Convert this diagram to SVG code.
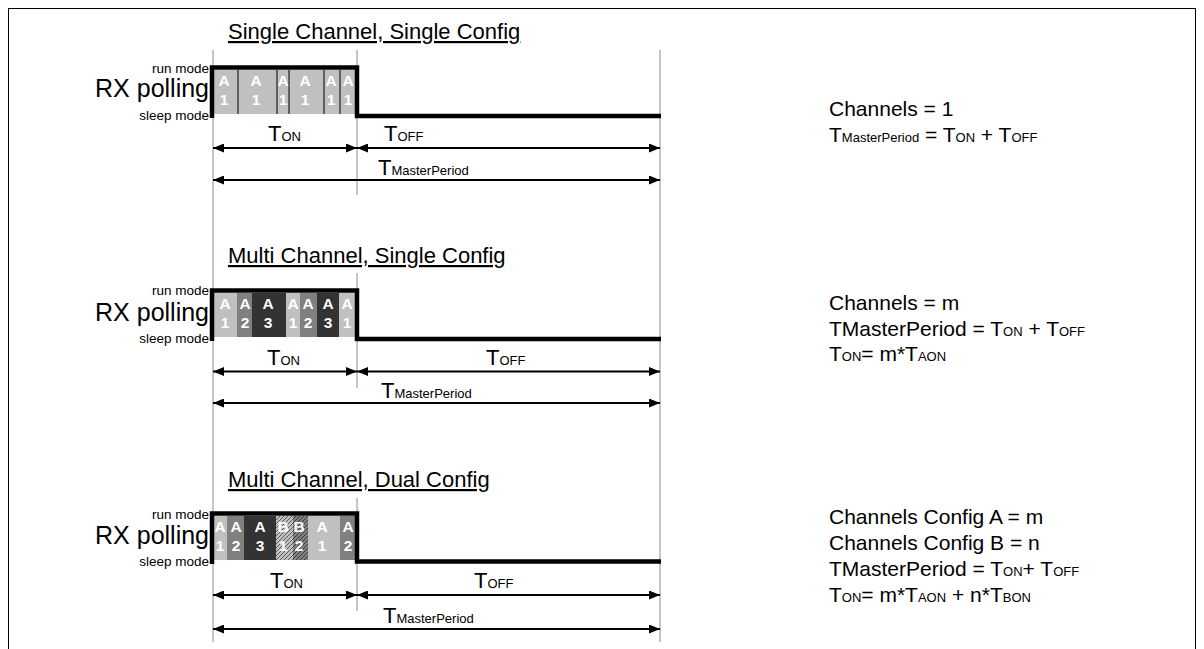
<svg xmlns="http://www.w3.org/2000/svg" width="1204" height="649" viewBox="0 0 1204 649">
<style>
text{font-family:"Liberation Sans",Arial,sans-serif;fill:#000}
.title{font-size:22px;text-decoration:underline}
.small{font-size:13.5px}
.rx{font-size:25px}
.tl{font-size:22px}
.rt{font-size:21px}
.sub{font-size:13px}
.blk{font-size:15.5px;font-weight:bold;fill:#fff;text-anchor:middle}
.grid{stroke:#a0a0a0;stroke-width:1.2;fill:none}
.sig{stroke:#000;stroke-width:4.5;fill:none;stroke-linejoin:miter}
.arr{stroke:#000;stroke-width:2;fill:none;marker-start:url(#ah);marker-end:url(#ah)}
.L{fill:#c0c0c0}.M{fill:#808080}.D{fill:#333333}
.sep{stroke:#000;stroke-width:1}
</style>
<defs>
<marker id="ah" viewBox="0 0 11 9" refX="11" refY="4.5" markerWidth="11" markerHeight="9" markerUnits="userSpaceOnUse" orient="auto-start-reverse">
<path d="M0,0 L11,4.5 L0,9 z" fill="#000"/>
</marker>
<pattern id="hatch" patternUnits="userSpaceOnUse" width="4" height="4">
<path d="M-1,1 L1,-1 M0,4 L4,0 M3,5 L5,3" stroke="#000" stroke-width="0.7" stroke-opacity="0.75"/>
</pattern>
</defs>
<rect x="8.5" y="8.5" width="1187" height="660" fill="#fff" stroke="#000" stroke-width="1"/>

<g id="grid">
<line class="grid" x1="213" y1="50" x2="213" y2="642"/>
<line class="grid" x1="660" y1="50" x2="660" y2="642"/>
<line class="grid" x1="357" y1="50" x2="357" y2="195"/>
<line class="grid" x1="357" y1="273" x2="357" y2="388"/>
<line class="grid" x1="357" y1="498" x2="357" y2="611"/>
</g>

<g id="section1">
<text class="title" x="228" y="39">Single Channel, Single Config</text>
<text class="small" x="209" y="72.5" text-anchor="end">run mode</text>
<text class="rx" x="209" y="97" text-anchor="end">RX polling</text>
<text class="small" x="209" y="120" text-anchor="end">sleep mode</text>
<g id="blocks1">
<rect class="L" x="214" y="70" width="141" height="44"/>
<line class="sep" x1="238" y1="70" x2="238" y2="114"/>
<line class="sep" x1="277" y1="70" x2="277" y2="114"/>
<line class="sep" x1="289" y1="70" x2="289" y2="114"/>
<line class="sep" x1="324" y1="70" x2="324" y2="114"/>
<line class="sep" x1="340" y1="70" x2="340" y2="114"/>
<text class="blk" x="224" y="86">A</text><text class="blk" x="224" y="105">1</text>
<text class="blk" x="256" y="86">A</text><text class="blk" x="256" y="105">1</text>
<text class="blk" x="283" y="86">A</text><text class="blk" x="283" y="105">1</text>
<text class="blk" x="305" y="86">A</text><text class="blk" x="305" y="105">1</text>
<text class="blk" x="331" y="86">A</text><text class="blk" x="331" y="105">1</text>
<text class="blk" x="348" y="86">A</text><text class="blk" x="348" y="105">1</text>
</g>
<path class="sig" d="M212,118 L212,67.5 L357,67.5 L357,116 L661,116"/>
<text class="tl" x="268" y="141">T<tspan class="sub">ON</tspan></text>
<text class="tl" x="384" y="141">T<tspan class="sub">OFF</tspan></text>
<text class="tl" x="378" y="175">T<tspan class="sub">MasterPeriod</tspan></text>
</g>

<g id="section2">
<text class="title" x="228" y="263">Multi Channel, Single Config</text>
<text class="small" x="209" y="295" text-anchor="end">run mode</text>
<text class="rx" x="209" y="321" text-anchor="end">RX polling</text>
<text class="small" x="209" y="343" text-anchor="end">sleep mode</text>
<g id="blocks2">
<rect class="L" x="214" y="293" width="23" height="44"/>
<rect class="M" x="237" y="293" width="15" height="44"/>
<rect class="D" x="252" y="293" width="34" height="44"/>
<rect class="L" x="286" y="293" width="14" height="44"/>
<rect class="M" x="300" y="293" width="17" height="44"/>
<rect class="D" x="317" y="293" width="22" height="44"/>
<rect class="L" x="339" y="293" width="16" height="44"/>
<text class="blk" x="225" y="309">A</text><text class="blk" x="225" y="328">1</text>
<text class="blk" x="245" y="309">A</text><text class="blk" x="245" y="328">2</text>
<text class="blk" x="268" y="309">A</text><text class="blk" x="268" y="328">3</text>
<text class="blk" x="293" y="309">A</text><text class="blk" x="293" y="328">1</text>
<text class="blk" x="308" y="309">A</text><text class="blk" x="308" y="328">2</text>
<text class="blk" x="328" y="309">A</text><text class="blk" x="328" y="328">3</text>
<text class="blk" x="347" y="309">A</text><text class="blk" x="347" y="328">1</text>
</g>
<path class="sig" d="M212,341 L212,290.5 L357,290.5 L357,339 L661,339"/>
<text class="tl" x="267" y="365">T<tspan class="sub">ON</tspan></text>
<text class="tl" x="486" y="365">T<tspan class="sub">OFF</tspan></text>
<text class="tl" x="381" y="398">T<tspan class="sub">MasterPeriod</tspan></text>
</g>

<g id="section3">
<text class="title" x="228" y="487">Multi Channel, Dual Config</text>
<text class="small" x="209" y="519" text-anchor="end">run mode</text>
<text class="rx" x="209" y="544" text-anchor="end">RX polling</text>
<text class="small" x="209" y="566" text-anchor="end">sleep mode</text>
<g id="blocks3">
<rect class="L" x="214" y="516" width="13" height="44"/>
<rect class="M" x="227" y="516" width="17" height="44"/>
<rect class="D" x="244" y="516" width="32" height="44"/>
<rect class="L" x="276" y="516" width="17" height="44"/>
<rect x="276" y="516" width="17" height="44" fill="url(#hatch)"/>
<rect class="M" x="293" y="516" width="15" height="44"/>
<rect x="293" y="516" width="15" height="44" fill="url(#hatch)"/>
<rect class="L" x="308" y="516" width="32" height="44"/>
<rect class="M" x="340" y="516" width="15" height="44"/>
<text class="blk" x="220" y="532">A</text><text class="blk" x="220" y="551">1</text>
<text class="blk" x="236" y="532">A</text><text class="blk" x="236" y="551">2</text>
<text class="blk" x="260" y="532">A</text><text class="blk" x="260" y="551">3</text>
<text class="blk" x="283" y="532">B</text><text class="blk" x="283" y="551">1</text>
<text class="blk" x="299" y="532">B</text><text class="blk" x="299" y="551">2</text>
<text class="blk" x="322" y="532">A</text><text class="blk" x="322" y="551">1</text>
<text class="blk" x="348" y="532">A</text><text class="blk" x="348" y="551">2</text>
</g>
<path class="sig" d="M212,564 L212,513.5 L357,513.5 L357,561.5 L661,561.5"/>
<text class="tl" x="270" y="588">T<tspan class="sub">ON</tspan></text>
<text class="tl" x="474" y="588">T<tspan class="sub">OFF</tspan></text>
<text class="tl" x="383" y="623">T<tspan class="sub">MasterPeriod</tspan></text>
</g>

<g id="connectors">
<line class="arr" x1="213" y1="148" x2="357" y2="148"/>
<line class="arr" x1="357" y1="148" x2="660" y2="148"/>
<line class="arr" x1="213" y1="180" x2="660" y2="180"/>
<line class="arr" x1="213" y1="371.5" x2="357" y2="371.5"/>
<line class="arr" x1="357" y1="371.5" x2="660" y2="371.5"/>
<line class="arr" x1="213" y1="403" x2="660" y2="403"/>
<line class="arr" x1="213" y1="595" x2="357" y2="595"/>
<line class="arr" x1="357" y1="595" x2="660" y2="595"/>
<line class="arr" x1="213" y1="629" x2="660" y2="629"/>
</g>

<g id="notes1">
<text class="rt" x="829" y="116">Channels = 1</text>
<text class="rt" x="829" y="142">T<tspan class="sub">MasterPeriod</tspan> = T<tspan class="sub">ON</tspan> + T<tspan class="sub">OFF</tspan></text>
</g>
<g id="notes2">
<text class="rt" x="829" y="310">Channels = m</text>
<text class="rt" x="829" y="335.5">TMasterPeriod = T<tspan class="sub">ON</tspan> + T<tspan class="sub">OFF</tspan></text>
<text class="rt" x="829" y="361">T<tspan class="sub">ON</tspan>= m*T<tspan class="sub">AON</tspan></text>
</g>
<g id="notes3">
<text class="rt" x="829" y="523.5">Channels Config A = m</text>
<text class="rt" x="829" y="549.5">Channels Config B = n</text>
<text class="rt" x="829" y="575.5">TMasterPeriod = T<tspan class="sub">ON</tspan>+ T<tspan class="sub">OFF</tspan></text>
<text class="rt" x="829" y="601.5">T<tspan class="sub">ON</tspan>= m*T<tspan class="sub">AON</tspan> + n*T<tspan class="sub">BON</tspan></text>
</g>
</svg>
